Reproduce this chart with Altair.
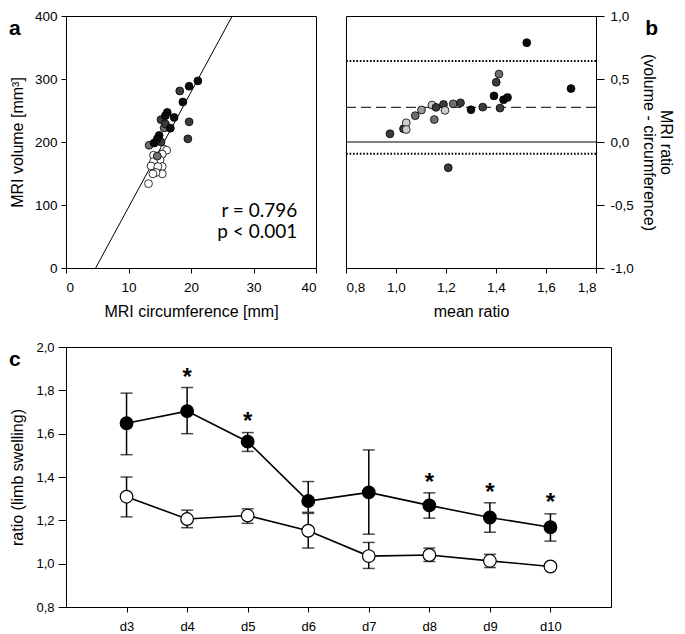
import altair as alt
import pandas as pd

FONT = "Liberation Sans, Arial, Helvetica, sans-serif"

# ---------------- panel a : MRI circumference vs MRI volume ----------------
a_circ = [15.7, 16.1, 14.0, 15.4, 15.05, 14.0, 13.6, 15.4, 14.7, 15.4, 14.4, 13.9, 13.2,
          14.6, 13.3, 15.7, 15.2, 15.9, 15.2, 19.7, 19.5, 18.2,
          21.1, 19.7, 18.7, 16.2, 17.3, 15.9, 16.7, 14.9, 14.6, 14.1]
a_vol = [188.5, 187.0, 179.0, 180.7, 171.4, 168.8, 162.0, 161.0, 161.0, 149.5, 151.6, 149.5, 133.9,
         177.6, 194.8, 222.4, 235.5, 228.6, 200.0, 232.0, 205.0, 281.0,
         297.0, 288.5, 263.5, 247.0, 239.0, 241.7, 221.9, 210.4, 205.0, 198.4]
a_grp = ["w"] * 13 + ["m", "m", "m", "d", "d", "d", "d", "d", "d",
                      "k", "k", "k", "k", "k", "k", "k", "k", "k", "k"]
fit_circ = [4.74, 26.6]
fit_vol = [0, 400]
stat_text = ["r = 0.796", "p < 0.001"]
stat_circ = [37.0, 37.0]
stat_vol = [81.0, 47.0]

# ---------------- panel b : Bland-Altman ----------------
b_mean = [0.976, 1.030, 1.041, 1.041, 1.077, 1.102, 1.144, 1.160, 1.153, 1.190, 1.196, 1.229,
          1.258, 1.300, 1.347, 1.209, 1.392, 1.401, 1.412, 1.416, 1.430, 1.446, 1.523, 1.700]
b_diff = [0.065, 0.105, 0.152, 0.099, 0.209, 0.254, 0.293, 0.275, 0.178, 0.298, 0.251, 0.303,
          0.311, 0.256, 0.277, -0.204, 0.366, 0.474, 0.539, 0.269, 0.335, 0.353, 0.788, 0.424]
b_grp = ["d", "d", "l", "l", "m", "g", "l", "d", "m", "d", "l", "m",
         "d", "k", "d", "d", "k", "d", "m", "d", "k", "k", "k", "k"]
b_zero = [0.0]
b_bias = [0.275]
b_loa = [0.643, -0.093]
b_title = ["MRI ratio", "(volume - circumference)"]

# ---------------- panel c : limb swelling over days ----------------
days = ["d3", "d4", "d5", "d6", "d7", "d8", "d9", "d10"]
filled_mean = [1.648, 1.704, 1.563, 1.289, 1.329, 1.269, 1.213, 1.168]
filled_lo = [1.503, 1.600, 1.518, 1.237, 1.136, 1.210, 1.145, 1.104]
filled_hi = [1.787, 1.813, 1.605, 1.379, 1.525, 1.327, 1.281, 1.230]
open_mean = [1.309, 1.206, 1.222, 1.152, 1.035, 1.040, 1.013, 0.987]
open_lo = [1.216, 1.166, 1.186, 1.072, 0.978, 1.010, 0.982, 0.977]
open_hi = [1.400, 1.247, 1.253, 1.232, 1.098, 1.072, 1.043, 0.997]
star_days = ["d4", "d5", "d8", "d9", "d10"]
star_y = [1.886, 1.681, 1.400, 1.354, 1.306]

panel_letters = ["a", "b", "c"]

grp_domain = ["k", "d", "m", "g", "l", "w"]
grp_range = ["#0b0b0b", "#3c3c3c", "#6f6f6f", "#9a9a9a", "#cdcdcd", "#ffffff"]
grp_scale = alt.Scale(domain=grp_domain, range=grp_range)

comma_expr = "replace(replace(format(datum.value, '.1f'), '.', ','), '\u2212', '-')"

W_TOP, H_TOP = 250, 252
W_C, H_C = 545, 260


def letter(txt, xpos, align):
    return alt.Chart(pd.DataFrame({"t": [txt]})).mark_text(
        font=FONT, fontSize=21, fontWeight="bold", color="black",
        align=align, baseline="alphabetic").encode(
        x=alt.value(xpos), y=alt.value(19), text="t:N")


# ---- panel a
df_a = pd.DataFrame({"circ": a_circ, "vol": a_vol, "grp": a_grp})
df_fit = pd.DataFrame({"circ": fit_circ, "vol": fit_vol})
df_stat = pd.DataFrame({"circ": stat_circ, "vol": stat_vol, "t": stat_text})

xa = alt.X("circ:Q", scale=alt.Scale(domain=[0, 40], nice=False),
           axis=alt.Axis(values=[0, 10, 20, 30, 40], title="MRI circumference [mm]",
                         tickSize=5, labelPadding=7, titlePadding=10))
ya = alt.Y("vol:Q", scale=alt.Scale(domain=[0, 400], nice=False),
           axis=alt.Axis(values=[0, 100, 200, 300, 400], title="MRI volume [mm³]",
                         tickSize=5, labelPadding=4, titlePadding=9))

fit_line = alt.Chart(df_fit).mark_line(color="black", strokeWidth=1, clip=True).encode(x=xa, y=ya)
pts_a = alt.Chart(df_a).mark_circle(size=62, stroke="black", strokeWidth=0.8, opacity=1).encode(
    x=xa, y=ya, fill=alt.Fill("grp:N", scale=grp_scale, legend=None))
stat = alt.Chart(df_stat).mark_text(align="right", baseline="alphabetic", font="Lato",
                                    fontSize=19, color="black").encode(x=xa, y=ya, text="t:N")
panel_a = alt.layer(fit_line, pts_a, stat, letter(panel_letters[0], -57, "left")).properties(
    width=W_TOP, height=H_TOP)

# ---- panel b
df_b = pd.DataFrame({"mr": b_mean, "diff": b_diff, "grp": b_grp})
xb = alt.X("mr:Q", scale=alt.Scale(domain=[0.8, 1.8], nice=False),
           axis=alt.Axis(values=[0.8, 1.0, 1.2, 1.4, 1.6, 1.8], labelExpr=comma_expr,
                         title="mean ratio", tickSize=5, labelPadding=7, titlePadding=10))
yb = alt.Y("diff:Q", scale=alt.Scale(domain=[-1, 1], nice=False),
           axis=alt.Axis(orient="right", values=[-1, -0.5, 0, 0.5, 1], labelExpr=comma_expr,
                         title=b_title, tickSize=8, labelPadding=6, titlePadding=7,
                         titleFontSize=16, titleLineHeight=17))

zero = alt.Chart(pd.DataFrame({"diff": b_zero})).mark_rule(color="black", strokeWidth=1).encode(y=yb)
bias = alt.Chart(pd.DataFrame({"diff": b_bias})).mark_rule(
    color="#333333", strokeWidth=1.2, strokeDash=[10, 5]).encode(y=yb)
loa = alt.Chart(pd.DataFrame({"diff": b_loa})).mark_rule(
    color="black", strokeWidth=2, strokeDash=[1.6, 1.8]).encode(y=yb)
pts_b = alt.Chart(df_b).mark_circle(size=62, stroke="black", strokeWidth=0.8, opacity=1).encode(
    x=xb, y=yb, fill=alt.Fill("grp:N", scale=grp_scale, legend=None))
panel_b = alt.layer(zero, bias, loa, pts_b,
                    letter(panel_letters[1], W_TOP + 62, "right")).properties(
    width=W_TOP, height=H_TOP)

# ---- panel c
df_c = pd.DataFrame({
    "day": days * 2,
    "mean": filled_mean + open_mean,
    "lo": filled_lo + open_lo,
    "hi": filled_hi + open_hi,
    "cond": ["swollen"] * len(days) + ["control"] * len(days),
})
df_star = pd.DataFrame({"day": star_days, "mean": star_y})

yaxis_c = alt.Axis(values=[0.8, 1.0, 1.2, 1.4, 1.6, 1.8, 2.0], labelExpr=comma_expr,
                   title="ratio (limb swelling)", tickSize=8, labelPadding=4, titlePadding=10,
                   labelFontSize=13)
yscale_c = alt.Scale(domain=[0.8, 2.0], nice=False)
xc = alt.X("day:N", sort=days, scale=alt.Scale(type="point", padding=1),
           axis=alt.Axis(title=None, labelAngle=0, tickSize=5, labelPadding=8, labelFontSize=13))

err = alt.Chart(df_c).mark_rule(color="black", strokeWidth=1.5).encode(
    x=xc, y=alt.Y("lo:Q", scale=yscale_c, axis=yaxis_c), y2="hi:Q")
cap_lo = alt.Chart(df_c).mark_tick(color="black", thickness=1.5, size=12).encode(
    x=xc, y=alt.Y("lo:Q", scale=yscale_c, axis=yaxis_c))
cap_hi = alt.Chart(df_c).mark_tick(color="black", thickness=1.5, size=12).encode(
    x=xc, y=alt.Y("hi:Q", scale=yscale_c, axis=yaxis_c))
lines_c = alt.Chart(df_c).mark_line(color="black", strokeWidth=1.6).encode(
    x=xc, y=alt.Y("mean:Q", scale=yscale_c, axis=yaxis_c), detail="cond:N")
pts_c = alt.Chart(df_c).mark_point(filled=True, shape="circle", size=160, stroke="black",
                                   strokeWidth=1.2, opacity=1).encode(
    x=xc, y=alt.Y("mean:Q", scale=yscale_c, axis=yaxis_c),
    fill=alt.Fill("cond:N", scale=alt.Scale(domain=["swollen", "control"],
                                            range=["#000000", "#ffffff"]), legend=None))
stars = alt.Chart(df_star).mark_text(text="*", fontSize=24, fontWeight="bold", font=FONT,
                                     baseline="alphabetic", dy=13, color="black").encode(
    x=xc, y=alt.Y("mean:Q", scale=yscale_c, axis=yaxis_c))
panel_c = alt.layer(err, cap_lo, cap_hi, lines_c, pts_c, stars,
                    letter(panel_letters[2], -57, "left")).properties(
    width=W_C, height=H_C)

top = alt.hconcat(panel_a, panel_b, spacing=27)
chart = alt.vconcat(top, panel_c, spacing=20).resolve_scale(fill="independent").properties(
    padding=0, background="white"
).configure_view(stroke="black", strokeWidth=1).configure_axis(
    grid=False, domainColor="black", tickColor="black", labelColor="black", titleColor="black",
    labelFont=FONT, titleFont=FONT, labelFontSize=13.5, titleFontSize=16,
    titleFontWeight="normal", domainWidth=1, tickWidth=1
)

chart.save("out.html", embed_options={"renderer": "svg", "actions": False})
